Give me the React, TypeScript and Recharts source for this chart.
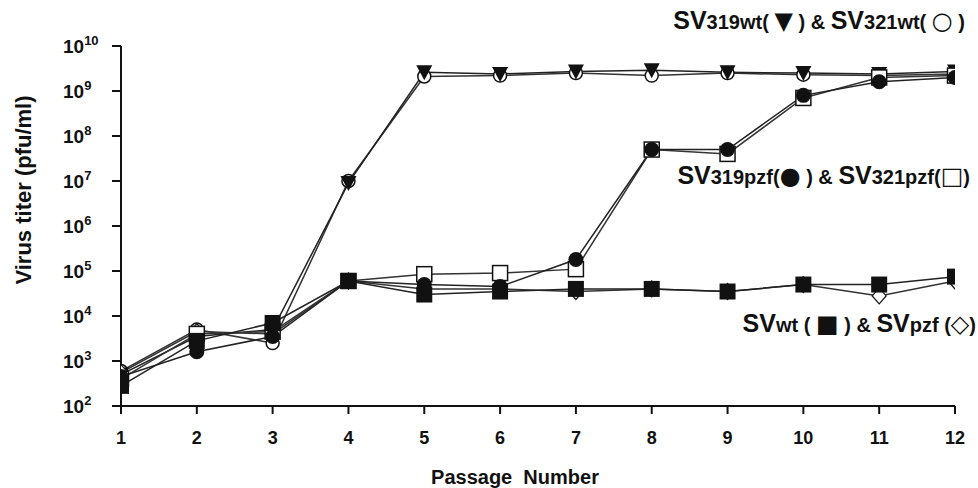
import React from 'react';
import { LineChart, Line, XAxis, YAxis } from 'recharts';

// passage number on x, titer (pfu/ml) on y
const passages = [1, 2, 3, 4, 5, 6, 7, 8, 9, 10, 11, 12];
const sv319wt = [500, 3500, 5000, 9e6, 2.6e9, 2.4e9, 2.7e9, 2.9e9, 2.6e9, 2.5e9, 2.4e9, 2.7e9];
const sv321wt = [600, 5000, 2500, 1e7, 2.1e9, 2.2e9, 2.5e9, 2.2e9, 2.5e9, 2.3e9, 2.2e9, 2.4e9];
const sv319pzf = [450, 1600, 3500, 6e4, 5e4, 4.5e4, 1.8e5, 5e7, 5e7, 8e8, 1.6e9, 2e9];
const sv321pzf = [400, 4000, 4500, 6e4, 8.5e4, 9e4, 1.1e5, 5e7, 4e7, 7e8, 2e9, 2.2e9];
const svwt = [280, 2800, 7000, 6e4, 3e4, 3.5e4, 4e4, 4e4, 3.5e4, 5e4, 5e4, 7.5e4];
const svpzf = [550, 4500, 4000, 6e4, 4e4, 4e4, 3.5e4, 4e4, 3.5e4, 5e4, 2.8e4, 6e4];
const yTicks = [1e2, 1e3, 1e4, 1e5, 1e6, 1e7, 1e8, 1e9, 1e10];

const data = passages.map((p, i) => ({
  passage: p,
  sv319wt: sv319wt[i],
  sv321wt: sv321wt[i],
  sv319pzf: sv319pzf[i],
  sv321pzf: sv321pzf[i],
  svwt: svwt[i],
  svpzf: svpzf[i],
}));

const FONT = "'Liberation Sans', Arial, sans-serif";
const NARROW = "'Liberation Sans Narrow', 'Liberation Sans', Arial, sans-serif";
const SYM = "'DejaVu Sans', sans-serif";
const INK = '#111';

// marker shapes
const triangleDot = (p: any) => (
  <path key={p.key} d={`M${p.cx - 8},${p.cy - 7} L${p.cx + 8},${p.cy - 7} L${p.cx},${p.cy + 8} Z`} fill={INK} />
);
const openCircleDot = (p: any) => (
  <circle key={p.key} cx={p.cx} cy={p.cy} r={6.5} fill="#fff" stroke={INK} strokeWidth={1.5} />
);
const filledCircleDot = (p: any) => <circle key={p.key} cx={p.cx} cy={p.cy} r={7.5} fill={INK} />;
const openSquareDot = (p: any) => (
  <rect key={p.key} x={p.cx - 7.5} y={p.cy - 7.5} width={15} height={15} fill="#fff" stroke={INK} strokeWidth={1.5} />
);
const filledSquareDot = (p: any) => <rect key={p.key} x={p.cx - 8} y={p.cy - 8} width={16} height={16} fill={INK} />;
const diamondDot = (p: any) => (
  <path key={p.key} d={`M${p.cx},${p.cy - 8} L${p.cx + 7},${p.cy} L${p.cx},${p.cy + 8} L${p.cx - 7},${p.cy} Z`} fill="#fff" stroke={INK} strokeWidth={1.2} />
);

const YTick = ({ y, payload }: any) => {
  const exp = Math.round(Math.log10(payload.value));
  return (
    <text x={63} y={y + 7} fontFamily={FONT} fontWeight="bold" fontSize={19} fill={INK}>
      10
      <tspan dy={-8} fontSize={13}>{exp}</tspan>
    </text>
  );
};

const XTick = ({ x, payload }: any) => (
  <text x={x} y={444} textAnchor="middle" fontFamily={NARROW} fontWeight="bold" fontSize={18} fill={INK}>
    {payload.value}
  </text>
);

const Legend = ({ x, y, a, b, c, d, g1, g2 }: any) => (
  <text x={x} y={y} fontFamily={FONT} fontWeight="bold" fill={INK} textAnchor="end">
    <tspan fontSize={25}>SV</tspan>
    <tspan fontSize={20}>{a}</tspan>
    <tspan fontSize={24} fontFamily={SYM}>{g1}</tspan>
    <tspan fontSize={20}>{b}</tspan>
    <tspan fontSize={25}>SV</tspan>
    <tspan fontSize={20}>{c}</tspan>
    <tspan fontSize={24} fontFamily={SYM}>{g2}</tspan>
    <tspan fontSize={20}>{d}</tspan>
  </text>
);

export default function App() {
  return (
    <div style={{ position: 'absolute', left: 0, top: 0, width: 978, height: 488, background: '#fff' }}>
      <LineChart width={978} height={488} data={data} margin={{ top: 46, right: 23, left: 0, bottom: 0 }}>
        <XAxis
          dataKey="passage"
          type="number"
          domain={[1, 12]}
          ticks={passages}
          tick={<XTick />}
          tickSize={8}
          height={82}
          stroke={INK}
          strokeWidth={2}
          allowDataOverflow
        />
        <YAxis
          type="number"
          scale="log"
          domain={[1e2, 1e10]}
          ticks={yTicks}
          tick={<YTick />}
          tickSize={9}
          width={121}
          stroke={INK}
          strokeWidth={2}
          allowDataOverflow
        />
        <Line dataKey="sv321wt" stroke="#333" strokeWidth={1.5} dot={openCircleDot} isAnimationActive={false} />
        <Line dataKey="sv319wt" stroke="#222" strokeWidth={1.5} dot={triangleDot} isAnimationActive={false} />
        <Line dataKey="svpzf" stroke="#333" strokeWidth={1.5} dot={diamondDot} isAnimationActive={false} />
        <Line dataKey="sv321pzf" stroke="#333" strokeWidth={1.5} dot={openSquareDot} isAnimationActive={false} />
        <Line dataKey="sv319pzf" stroke="#222" strokeWidth={1.5} dot={filledCircleDot} isAnimationActive={false} />
        <Line dataKey="svwt" stroke="#222" strokeWidth={1.5} dot={filledSquareDot} isAnimationActive={false} />
      </LineChart>
      <svg width={978} height={488} style={{ position: 'absolute', left: 0, top: 0, pointerEvents: 'none' }}>
        <text
          transform="translate(31,190) rotate(-90)"
          textAnchor="middle"
          fontFamily={FONT}
          fontWeight="bold"
          fontSize={22}
          fill={INK}
        >
          Virus titer (pfu/ml)
        </text>
        <text x={515} y={484} textAnchor="middle" fontFamily={NARROW} fontWeight="bold" fontSize={20} fill={INK} style={{ whiteSpace: 'pre' }}>
          Passage  Number
        </text>
        <Legend x={965} y={29} a="319wt( " g1="▼" b=" ) & " c="321wt( " g2="○" d=" )" />
        <Legend x={970} y={184} a="319pzf(" g1="●" b=" ) & " c="321pzf(" g2="□" d=")" />
        <Legend x={976} y={332} a="wt ( " g1="■" b=" ) & " c="pzf (" g2="◇" d=")" />
      </svg>
    </div>
  );
}
